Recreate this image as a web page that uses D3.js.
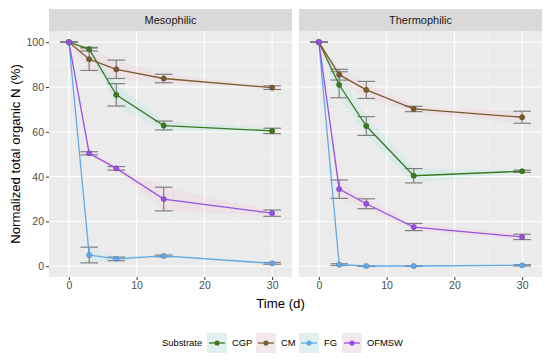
<!DOCTYPE html>
<html>
<head>
<meta charset="utf-8">
<script src="https://cdn.jsdelivr.net/npm/d3@7"></script>
<style>
  body { margin: 0; background: #fff; }
  text { font-family: Arial, "Liberation Sans", sans-serif; }
</style>
</head>
<body>
<svg id="chart" width="550" height="362"></svg>
<script>
// ---- data ----
const days = [0, 3, 7, 14, 30];
const substrates = ["CGP", "CM", "FG", "OFMSW"];
const panels = ["Mesophilic", "Thermophilic"];

const mesoCGP     = [100, 96.9, 76.5, 62.8, 60.4];
const mesoCGPsd   = [0, 0.8, 5.0, 2.0, 1.2];
const mesoCM      = [100, 92.4, 87.9, 83.8, 79.7];
const mesoCMsd    = [0, 5.0, 4.1, 1.9, 0.8];
const mesoFG      = [100, 5.0, 3.3, 4.6, 1.3];
const mesoFGsd    = [0, 3.5, 0.8, 0.4, 0.4];
const mesoOFMSW   = [100, 50.4, 43.7, 30.0, 23.7];
const mesoOFMSWsd = [0, 0.7, 0.8, 5.3, 1.4];

const thermoCGP     = [100, 81.0, 62.6, 40.4, 42.4];
const thermoCGPsd   = [0, 5.8, 4.2, 3.2, 0.5];
const thermoCM      = [100, 85.5, 78.7, 70.2, 66.5];
const thermoCMsd    = [0, 2.4, 3.8, 1.2, 2.7];
const thermoFG      = [100, 0.7, 0.1, 0.1, 0.4];
const thermoFGsd    = [0, 0.4, 0.2, 0.2, 0.3];
const thermoOFMSW   = [100, 34.4, 27.9, 17.5, 13.1];
const thermoOFMSWsd = [0, 4.1, 2.2, 1.6, 1.2];

const xTicks = [0, 10, 20, 30];
const yTicks = [0, 20, 40, 60, 80, 100];

const COLORS = { CGP: "#3b7a1f", CM: "#7d5a2c", FG: "#62a8e6", OFMSW: "#9a4fe3" };
const RIBBON = { CGP: "#00e0d0", CM: "#ff70b0", FG: "#00e0d0", OFMSW: "#ff70b0" };

const values = {
  Mesophilic:   { CGP: [mesoCGP, mesoCGPsd], CM: [mesoCM, mesoCMsd], FG: [mesoFG, mesoFGsd], OFMSW: [mesoOFMSW, mesoOFMSWsd] },
  Thermophilic: { CGP: [thermoCGP, thermoCGPsd], CM: [thermoCM, thermoCMsd], FG: [thermoFG, thermoFGsd], OFMSW: [thermoOFMSW, thermoOFMSWsd] }
};

// ---- layout ----
const PANEL = { top: 31, bottom: 277, stripTop: 9 };
const panelX = { Mesophilic: [49, 292], Thermophilic: [299, 542] };
const ERR_W = 2.6; // errorbar width in days

const svg = d3.select("#chart");
const y = d3.scaleLinear().domain([-4.8, 105]).range([PANEL.bottom, PANEL.top]);

panels.forEach(p => {
  const [x0, x1] = panelX[p];
  const x = d3.scaleLinear().domain([-2.93, 32.93]).range([x0, x1]);
  const g = svg.append("g");

  // strip
  g.append("rect").attr("x", x0).attr("y", PANEL.stripTop)
    .attr("width", x1 - x0).attr("height", PANEL.top - PANEL.stripTop).attr("fill", "#d9d9d9");
  g.append("text").attr("x", (x0 + x1) / 2).attr("y", (PANEL.stripTop + PANEL.top) / 2)
    .attr("dy", "0.35em").attr("text-anchor", "middle")
    .attr("font-size", 11).attr("fill", "#1a1a1a").text(p);

  // panel background + grid
  g.append("rect").attr("x", x0).attr("y", PANEL.top)
    .attr("width", x1 - x0).attr("height", PANEL.bottom - PANEL.top).attr("fill", "#ebebeb");
  const minorX = [-5, 5, 15, 25], minorY = [10, 30, 50, 70, 90];
  g.selectAll(".mx").data(minorX.filter(v => x(v) > x0)).enter().append("line")
    .attr("x1", d => x(d)).attr("x2", d => x(d)).attr("y1", PANEL.top).attr("y2", PANEL.bottom)
    .attr("stroke", "#f5f5f5").attr("stroke-width", 0.6);
  g.selectAll(".my").data(minorY).enter().append("line")
    .attr("x1", x0).attr("x2", x1).attr("y1", d => y(d)).attr("y2", d => y(d))
    .attr("stroke", "#f5f5f5").attr("stroke-width", 0.6);
  g.selectAll(".gx").data(xTicks).enter().append("line")
    .attr("x1", d => x(d)).attr("x2", d => x(d)).attr("y1", PANEL.top).attr("y2", PANEL.bottom)
    .attr("stroke", "#fff").attr("stroke-width", 1.1);
  g.selectAll(".gy").data(yTicks).enter().append("line")
    .attr("x1", x0).attr("x2", x1).attr("y1", d => y(d)).attr("y2", d => y(d))
    .attr("stroke", "#fff").attr("stroke-width", 1.1);

  // x axis
  const xAxis = d3.axisBottom(x).tickValues(xTicks).tickSize(3).tickPadding(2);
  const ax = g.append("g").attr("transform", `translate(0,${PANEL.bottom})`).call(xAxis);
  ax.select(".domain").remove();
  ax.selectAll("line").attr("stroke", "#333");
  ax.selectAll("text").attr("font-size", 10.5).attr("fill", "#4d4d4d")
    .attr("font-family", "Arial, 'Liberation Sans', sans-serif");

  if (p === "Mesophilic") {
    const yAxis = d3.axisLeft(y).tickValues(yTicks).tickSize(3).tickPadding(2);
    const ay = g.append("g").attr("transform", `translate(${x0},0)`).call(yAxis);
    ay.select(".domain").remove();
    ay.selectAll("line").attr("stroke", "#333");
    ay.selectAll("text").attr("font-size", 10.5).attr("fill", "#4d4d4d")
      .attr("font-family", "Arial, 'Liberation Sans', sans-serif");
  }

  const marks = g.append("g");
  substrates.forEach(s => {
    const [mean, sd] = values[p][s];
    const pts = days.map((d, i) => ({ d, v: mean[i], sd: sd[i] }));

    // faint ribbon
    marks.append("path").datum(pts)
      .attr("d", d3.area().x(q => x(q.d)).y0(q => y(q.v - q.sd)).y1(q => y(q.v + q.sd)))
      .attr("fill", RIBBON[s]).attr("opacity", 0.07);
  });

  substrates.forEach(s => {
    const [mean, sd] = values[p][s];
    const pts = days.map((d, i) => ({ d, v: mean[i], sd: sd[i] }));
    const eb = marks.append("g").attr("stroke", "#808080").attr("stroke-width", 1.2).attr("fill", "none");
    pts.forEach(q => {
      eb.append("line").attr("x1", x(q.d - ERR_W / 2)).attr("x2", x(q.d + ERR_W / 2))
        .attr("y1", y(q.v + q.sd)).attr("y2", y(q.v + q.sd));
      eb.append("line").attr("x1", x(q.d - ERR_W / 2)).attr("x2", x(q.d + ERR_W / 2))
        .attr("y1", y(q.v - q.sd)).attr("y2", y(q.v - q.sd));
      eb.append("line").attr("x1", x(q.d)).attr("x2", x(q.d))
        .attr("y1", y(q.v + q.sd)).attr("y2", y(q.v - q.sd));
    });
  });

  substrates.forEach(s => {
    const [mean] = values[p][s];
    const pts = days.map((d, i) => ({ d, v: mean[i] }));
    marks.append("path").datum(pts)
      .attr("d", d3.line().x(q => x(q.d)).y(q => y(q.v)))
      .attr("fill", "none").attr("stroke", COLORS[s]).attr("stroke-width", 1.3);
    marks.selectAll(null).data(pts).enter().append("circle")
      .attr("cx", q => x(q.d)).attr("cy", q => y(q.v)).attr("r", 2.6)
      .attr("fill", COLORS[s]).attr("stroke", d3.color(COLORS[s]).darker(0.6)).attr("stroke-width", 0.6);
  });
});

// axis titles
svg.append("text").attr("x", 280.5).attr("y", 308).attr("text-anchor", "middle")
  .attr("font-size", 13.2).attr("fill", "#000").text("Time (d)");
svg.append("text").attr("transform", "translate(20,154) rotate(-90)").attr("text-anchor", "middle")
  .attr("font-size", 13.2).attr("fill", "#000").text("Normalized total organic N (%)");

// legend
const leg = svg.append("g").attr("transform", "translate(0,343)");
leg.append("text").attr("x", 162).attr("y", 0).attr("dy", "0.35em")
  .attr("font-size", 9.4).attr("fill", "#000").text("Substrate");
const keyX = [207, 256, 299, 342];
substrates.forEach((s, i) => {
  const kx = keyX[i];
  leg.append("rect").attr("x", kx).attr("y", -10).attr("width", 20).attr("height", 20).attr("fill", "#f2f2f2");
  leg.append("rect").attr("x", kx).attr("y", -10).attr("width", 20).attr("height", 20)
    .attr("fill", RIBBON[s]).attr("opacity", 0.07);
  leg.append("line").attr("x1", kx + 2).attr("x2", kx + 18).attr("y1", 0).attr("y2", 0)
    .attr("stroke", COLORS[s]).attr("stroke-width", 1.3);
  leg.append("circle").attr("cx", kx + 10).attr("cy", 0).attr("r", 2.6).attr("fill", COLORS[s]);
  leg.append("text").attr("x", kx + 25).attr("y", 0).attr("dy", "0.35em")
    .attr("font-size", 9.4).attr("fill", "#000").text(s);
});
</script>
</body>
</html>
